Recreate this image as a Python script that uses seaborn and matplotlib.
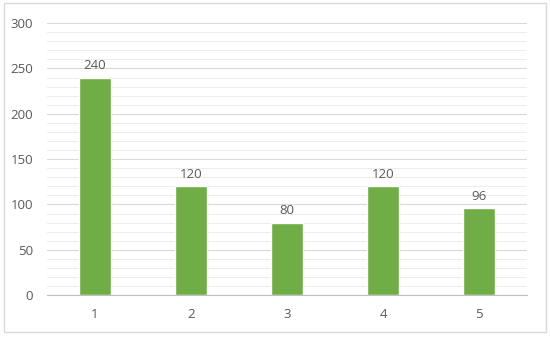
import numpy as np
import pandas as pd
import matplotlib
matplotlib.use("Agg")
import matplotlib.pyplot as plt
from matplotlib.patches import Rectangle
from matplotlib.ticker import MultipleLocator
import seaborn as sns

# 数据
categories = ["1", "2", "3", "4", "5"]
values = [240, 120, 80, 120, 96]

sns.set_style("white")
plt.rcParams["font.family"] = ["Open Sans", "DejaVu Sans"]

TEXT = "#595959"
GREEN = "#70AD47"

df = pd.DataFrame({"cat": categories, "val": values})

fig = plt.figure(figsize=(5.5, 3.4), dpi=100)
ax = fig.add_axes([0.0855, 0.132, 0.8725, 0.8])

sns.barplot(data=df, x="cat", y="val", color=GREEN, saturation=1, width=0.34, ax=ax, zorder=3)

ax.set_ylim(0, 300)
ax.set_xlim(-0.5, len(categories) - 0.5)
ax.yaxis.set_major_locator(MultipleLocator(50))
ax.yaxis.set_minor_locator(MultipleLocator(10))
ax.grid(axis="y", which="major", color="#D9D9D9", linewidth=0.8, zorder=0)
ax.grid(axis="y", which="minor", color="#EDEDED", linewidth=0.8, zorder=0)
ax.set_axisbelow(True)

for s in ["top", "right", "left"]:
    ax.spines[s].set_visible(False)
ax.spines["bottom"].set_color("#BFBFBF")
ax.spines["bottom"].set_zorder(4)

ax.tick_params(axis="both", which="both", length=0, colors=TEXT, labelsize=9.5)
ax.tick_params(axis="x", pad=9)
ax.tick_params(axis="y", pad=10)
ax.set_xlabel("")
ax.set_ylabel("")

for i, v in enumerate(values):
    ax.text(i, v + 6, f"{v}", ha="center", va="bottom", color=TEXT, fontsize=9.5)

# 外框
fig.patches.append(Rectangle((0.008, 0.025), 0.984, 0.965, transform=fig.transFigure,
                             fill=False, edgecolor="#D9D9D9", linewidth=1))

fig.savefig("out.png", dpi=100)
